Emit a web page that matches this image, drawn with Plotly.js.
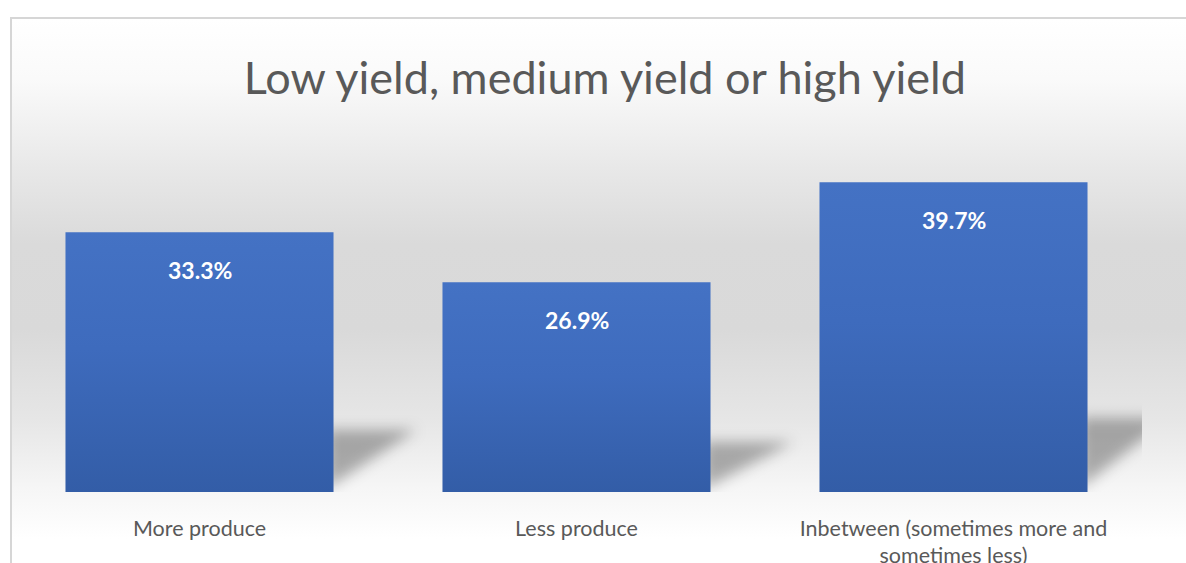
<!DOCTYPE html>
<html>
<head>
<meta charset="utf-8">
<script src="https://cdn.plot.ly/plotly-3.0.1.min.js"></script>
<style>
  html, body { margin: 0; padding: 0; background: #ffffff; }
  #wrap { position: relative; width: 1186px; height: 563px; overflow: hidden; background: #ffffff; }
  #bg {
    position: absolute; left: 10px; top: 17px; width: 1200px; height: 560px;
    border-left: 2px solid #d6d6d6; border-top: 2px solid #d6d6d6;
    background: linear-gradient(to bottom,
      #ffffff 0px, #fafafa 60px, #e8e8e8 150px, #dadada 225px,
      #d9d9d9 310px, #e6e6e6 400px, #f6f6f6 470px, #ffffff 520px, #ffffff 560px);
  }
  #chart { position: absolute; left: 0; top: 0; width: 1186px; height: 563px; }
</style>
</head>
<body>
<div id="wrap">
  <div id="bg"></div>
  <div id="chart"></div>
</div>
<script>
const categories = ['More produce', 'Less produce', 'Inbetween (sometimes more and<br>sometimes less)'];
const values = [33.3, 26.9, 39.7];
const valueLabels = ['33.3%', '26.9%', '39.7%'];
const chartTitle = 'Low yield, medium yield or high yield';

const barWidth = 0.711;
const FONT = 'Lato, "Open Sans", sans-serif';

const trace = {
  type: 'bar',
  x: categories,
  y: values,
  width: barWidth,
  marker: { color: '#3c67b9', line: { width: 0 } },
  hoverinfo: 'skip'
};

// perspective shadows derived from the bar values
const shadowShapes = values.map((v, i) => {
  const x0 = i + barWidth / 2;
  const dx = 0.22;
  const h = v * 0.24;
  return {
    type: 'path', xref: 'x', yref: 'y', layer: 'below',
    path: `M ${x0 - 0.02},${h * 0.05} L ${x0 + dx},${h} L ${x0 - 0.02},${h} Z`,
    fillcolor: 'rgba(0,0,0,0.30)', line: { width: 0 }
  };
});

const labelAnnotations = values.map((v, i) => ({
  x: categories[i], y: v, xref: 'x', yref: 'y',
  text: valueLabels[i], showarrow: false,
  yanchor: 'middle', yshift: -38,
  font: { family: FONT, size: 23, color: '#ffffff', weight: 'bold' }
}));

const layout = {
  width: 1186, height: 563,
  margin: { l: 11, r: 44, t: 180, b: 71 },
  paper_bgcolor: 'rgba(0,0,0,0)',
  plot_bgcolor: 'rgba(0,0,0,0)',
  title: {
    text: chartTitle,
    font: { family: FONT, size: 45, color: '#595959' },
    xref: 'container', x: 0.51, xanchor: 'center',
    yref: 'container', y: 0.861, yanchor: 'middle'
  },
  xaxis: {
    type: 'category', range: [-0.5, 2.5],
    showgrid: false, zeroline: false, showline: false,
    ticks: '', ticklabelstandoff: 21,
    tickfont: { family: FONT, size: 21.5, color: '#595959' }
  },
  yaxis: {
    range: [0, 40], showgrid: false, zeroline: false, showline: false,
    showticklabels: false, ticks: ''
  },
  shapes: shadowShapes,
  annotations: labelAnnotations,
  showlegend: false
};

Plotly.newPlot('chart', [trace], layout, { staticPlot: true, displayModeBar: false }).then(gd => {
  try {
    const svgNS = 'http://www.w3.org/2000/svg';
    const svg = gd.querySelector('svg.main-svg');
    let defs = svg.querySelector('defs');
    if (!defs) { defs = document.createElementNS(svgNS, 'defs'); svg.insertBefore(defs, svg.firstChild); }
    const grad = document.createElementNS(svgNS, 'linearGradient');
    grad.setAttribute('id', 'barGrad');
    grad.setAttribute('x1', '0'); grad.setAttribute('y1', '0');
    grad.setAttribute('x2', '0'); grad.setAttribute('y2', '1');
    [['0', '#4472c4'], ['0.45', '#3e6bbd'], ['1', '#335da7']].forEach(([o, c]) => {
      const s = document.createElementNS(svgNS, 'stop');
      s.setAttribute('offset', o); s.setAttribute('stop-color', c);
      grad.appendChild(s);
    });
    defs.appendChild(grad);
    const filt = document.createElementNS(svgNS, 'filter');
    filt.setAttribute('id', 'shadowBlur');
    filt.setAttribute('filterUnits', 'userSpaceOnUse');
    filt.setAttribute('x', '0'); filt.setAttribute('y', '0');
    filt.setAttribute('width', '1186'); filt.setAttribute('height', '563');
    const blur = document.createElementNS(svgNS, 'feGaussianBlur');
    blur.setAttribute('stdDeviation', '7');
    filt.appendChild(blur);
    defs.appendChild(filt);
    gd.querySelectorAll('.bars .point path').forEach(p => { p.style.fill = 'url(#barGrad)'; });
    gd.querySelectorAll('.shapelayer path').forEach(p => {
      p.setAttribute('filter', 'url(#shadowBlur)');
      p.style.filter = 'url(#shadowBlur)';
    });
  } catch (e) { /* keep solid fallback */ }
});
</script>
</body>
</html>
